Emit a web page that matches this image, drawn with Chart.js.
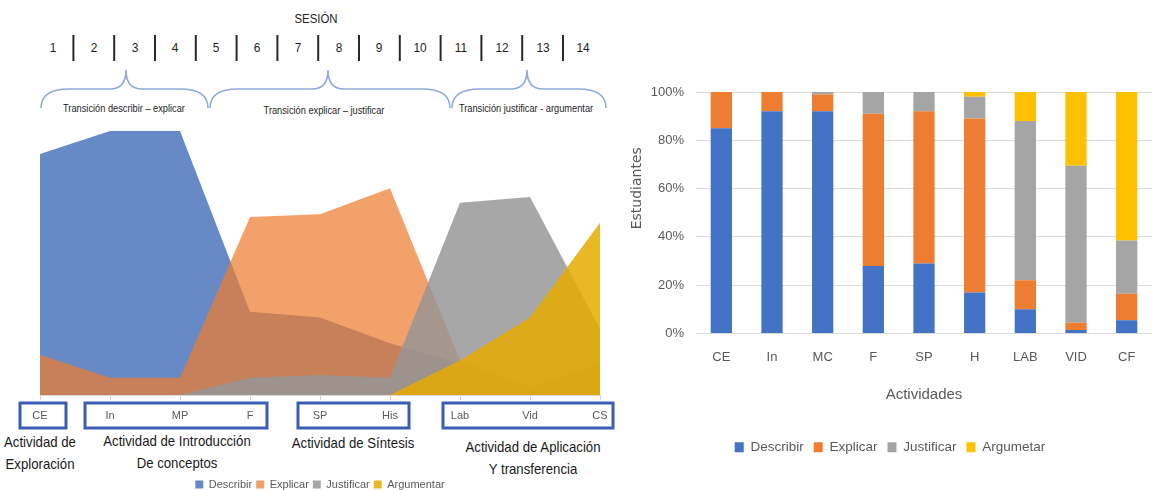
<!DOCTYPE html>
<html>
<head>
<meta charset="utf-8">
<script src="https://cdn.jsdelivr.net/npm/chart.js@4"></script>
<style>
  html, body { margin: 0; padding: 0; background: #fff; overflow: hidden; width: 1158px; height: 490px; }
  body { position: relative; font-family: 'Liberation Sans Narrow', 'Liberation Sans', sans-serif; color: #1e1e1e; }
  .t { position: absolute; white-space: nowrap; transform: translate(-50%, -50%) scaleX(0.88); line-height: 1; }
  #leftWrap { position: absolute; left: 0; top: 0; width: 620px; height: 500px; }
  #rightWrap { position: absolute; left: 620px; top: 60px; width: 538px; height: 410px; }
  #deco { position: absolute; left: 0; top: 0; }
</style>
</head>
<body>
<svg id="deco" width="620" height="130"></svg>
<div id="texts"></div>
<div id="leftWrap"><canvas id="sessions" width="620" height="500"></canvas></div>
<div id="rightWrap"><canvas id="activities" width="538" height="410"></canvas></div>

<script>
// ---- Data: skill level per activity (% of students) ----
const skillNames = ['Describir', 'Explicar', 'Justificar', 'Argumentar'];

// Left panel: activities along the 14 sessions
const sessionActivities = ['CE', 'In', 'MP', 'F', 'SP', 'His', 'Lab', 'Vid', 'CS'];
const areaDescribir  = [84, 92, 92, 29, 27, 18, 11, 2, 5];
const areaExplicar   = [14, 6, 6, 62, 63, 72, 12, 3, 11];
const areaJustificar = [0, 0, 0, 6, 7, 6, 67, 69, 23];
const areaArgumentar = [0, 0, 0, 0, 0, 0, 12, 27, 60];

// Right panel: stacked share of students per activity
const activities = ['CE', 'In', 'MC', 'F', 'SP', 'H', 'LAB', 'VID', 'CF'];
const barDescribir  = [85, 92, 92, 28, 29, 17, 10, 1.5, 5.5];
const barExplicar   = [15, 8, 7, 63, 63, 72, 12, 3, 11];
const barJustificar = [0, 0, 1, 9, 8, 9, 66, 65, 22];
const barArgumetar  = [0, 0, 0, 0, 0, 2, 12, 30.5, 61.5];
const barLegendNames = ['Describir', 'Explicar', 'Justificar', 'Argumetar'];
const percentTicks = [0, 20, 40, 60, 80, 100];

// Session header and annotations
const sessionNumbers = ['1','2','3','4','5','6','7','8','9','10','11','12','13','14'];
const transitions = ['Transición describir – explicar', 'Transición explicar – justificar', 'Transición justificar - argumentar'];
const activityGroups = [
  { first: 0, last: 0, lines: ['Actividad de', 'Exploración'] },
  { first: 1, last: 3, lines: ['Actividad de Introducción', 'De conceptos'] },
  { first: 4, last: 5, lines: ['Actividad de Síntesis'] },
  { first: 6, last: 8, lines: ['Actividad de Aplicación', 'Y transferencia'] }
];

// ---- Layout / styling ----
const NARROW = "'Liberation Sans Narrow', 'Liberation Sans', sans-serif";
const textsEl = document.getElementById('texts');
function addText(str, x, y, size, color) {
  const d = document.createElement('div');
  d.className = 't';
  d.textContent = str;
  d.style.left = x + 'px';
  d.style.top = y + 'px';
  d.style.fontSize = size + 'px';
  if (color) d.style.color = color;
  textsEl.appendChild(d);
}

// Header: "SESIÓN" and the session numbers with separators
addText('SESIÓN', 316, 18, 13);
const svg = document.getElementById('deco');
const NS = 'http://www.w3.org/2000/svg';
const numX0 = 53, numStep = 40.8;
sessionNumbers.forEach((s, i) => {
  addText(s, numX0 + i * numStep, 48, 13.5);
  if (i < sessionNumbers.length - 1) {
    const l = document.createElementNS(NS, 'line');
    const x = numX0 + (i + 0.5) * numStep;
    l.setAttribute('x1', x); l.setAttribute('x2', x);
    l.setAttribute('y1', 35); l.setAttribute('y2', 61);
    l.setAttribute('stroke', '#2a2a2a'); l.setAttribute('stroke-width', 2);
    svg.appendChild(l);
  }
});

// Curly braces for the transitions
const braces = [
  { x1: 41, x2: 208, peak: 126, tx: 124, ty: 108 },
  { x1: 210, x2: 450, peak: 328, tx: 324, ty: 110 },
  { x1: 452, x2: 606, peak: 527, tx: 526, ty: 108 }
];
braces.forEach((b, i) => {
  const yEnd = 108, yMid = 89, yTop = 70;
  const d = `M ${b.x1} ${yEnd} Q ${b.x1} ${yMid} ${b.x1 + 28} ${yMid} L ${b.peak - 16} ${yMid}` +
            ` Q ${b.peak} ${yMid} ${b.peak} ${yTop} Q ${b.peak} ${yMid} ${b.peak + 16} ${yMid}` +
            ` L ${b.x2 - 28} ${yMid} Q ${b.x2} ${yMid} ${b.x2} ${yEnd}`;
  const p = document.createElementNS(NS, 'path');
  p.setAttribute('d', d);
  p.setAttribute('fill', 'none');
  p.setAttribute('stroke', '#8eaadb');
  p.setAttribute('stroke-width', 1.6);
  svg.appendChild(p);
  addText(transitions[i], b.tx, b.ty, 10.5);
});

// Blue frames around grouped activity labels, drawn from the x scale
const groupPads = [[20, 26], [25, 17], [22, 19], [17, 13]];
const groupTextPos = [[40, 441], [177, 440], [353, 442], [533, 446]];
const activityFrames = {
  id: 'activityFrames',
  afterDraw(chart) {
    const { ctx, scales: { x }, chartArea } = chart;
    ctx.save();
    ctx.strokeStyle = '#3b5cb3';
    ctx.lineWidth = 3;
    activityGroups.forEach((g, i) => {
      const left = x.getPixelForValue(g.first) - groupPads[i][0];
      const right = x.getPixelForValue(g.last) + groupPads[i][1];
      ctx.strokeRect(left, chartArea.bottom + 8, right - left, 25);
    });
    ctx.restore();
  }
};
activityGroups.forEach((g, i) => {
  g.lines.forEach((ln, j) => addText(ln, groupTextPos[i][0], groupTextPos[i][1] + j * 22, 15, '#1a1a1a'));
});

// ---- Left chart: overlapping areas over the sessions ----
const areaColors = ['rgb(103,137,198)', 'rgba(237,125,49,0.72)', 'rgba(150,150,150,0.84)', 'rgba(230,170,0,0.85)'];
const areaSeries = [areaDescribir, areaExplicar, areaJustificar, areaArgumentar];
new Chart(document.getElementById('sessions'), {
  type: 'line',
  data: {
    labels: sessionActivities,
    datasets: areaSeries.map((vals, i) => ({
      label: skillNames[i],
      data: vals,
      fill: 'origin',
      backgroundColor: areaColors[i],
      borderWidth: 0,
      pointRadius: 0,
      tension: 0,
      order: 4 - i
    }))
  },
  plugins: [activityFrames],
  options: {
    responsive: false,
    animation: false,
    devicePixelRatio: 1,
    layout: { padding: { top: 108, left: 40, right: 20, bottom: 0 } },
    scales: {
      x: {
        grid: { display: true, drawOnChartArea: false, drawTicks: true, tickLength: 5, color: '#d4d4d4' },
        border: { display: true, color: '#d9d9d9' },
        ticks: { color: '#595959', font: { family: NARROW, size: 11 }, padding: 9, maxRotation: 0, autoSkip: false },
        afterFit(scale) { scale.height = 80; }
      },
      y: { display: false, min: 0, max: 100 }
    },
    plugins: {
      legend: {
        position: 'bottom',
        labels: {
          boxWidth: 8, boxHeight: 8, padding: 4, color: '#595959',
          font: { family: NARROW, size: 11 },
          sort: (a, b) => a.datasetIndex - b.datasetIndex
        }
      },
      tooltip: { enabled: false }
    }
  }
});

// ---- Right chart: 100% stacked bars per activity ----
const barColors = ['#4472C4', '#ED7D31', '#A5A5A5', '#FFC000'];
const barSeries = [barDescribir, barExplicar, barJustificar, barArgumetar];
new Chart(document.getElementById('activities'), {
  type: 'bar',
  data: {
    labels: activities,
    datasets: barSeries.map((vals, i) => ({
      label: barLegendNames[i],
      data: vals,
      backgroundColor: barColors[i],
      borderWidth: 0,
      barPercentage: 0.42,
      categoryPercentage: 1
    }))
  },
  options: {
    responsive: false,
    animation: false,
    devicePixelRatio: 1,
    layout: { padding: { top: 32, left: 8, right: 6, bottom: 6 } },
    scales: {
      x: {
        stacked: true,
        grid: { display: false },
        border: { display: false },
        ticks: { color: '#595959', font: { family: NARROW, size: 13 }, padding: 8, maxRotation: 0 },
        title: { display: true, text: 'Actividades', color: '#595959', font: { family: NARROW, size: 15 }, padding: { top: 0, bottom: 27 } },
        afterFit(scale) { scale.height = 97; }
      },
      y: {
        stacked: true,
        min: 0, max: 100,
        afterBuildTicks(scale) { scale.ticks = percentTicks.map(v => ({ value: v })); },
        grid: { color: '#d9d9d9', drawTicks: false, lineWidth: 1 },
        border: { display: false },
        ticks: { color: '#595959', font: { family: NARROW, size: 13 }, padding: 12, callback: v => v + '%' },
        // leading spaces lift the rotated label toward the upper part of the axis
        title: { display: true, text: '\u00a0'.repeat(11) + 'Estudiantes', color: '#595959', font: { family: "'DejaVu Sans', sans-serif", size: 14 }, padding: { top: 1, bottom: 0 } },
        afterFit(scale) { scale.width = 68; }
      }
    },
    plugins: {
      legend: {
        position: 'bottom',
        labels: { boxWidth: 9, boxHeight: 10, padding: 10, color: '#595959', font: { family: NARROW, size: 13.5 } }
      },
      tooltip: { enabled: false }
    }
  }
});
</script>
</body>
</html>
